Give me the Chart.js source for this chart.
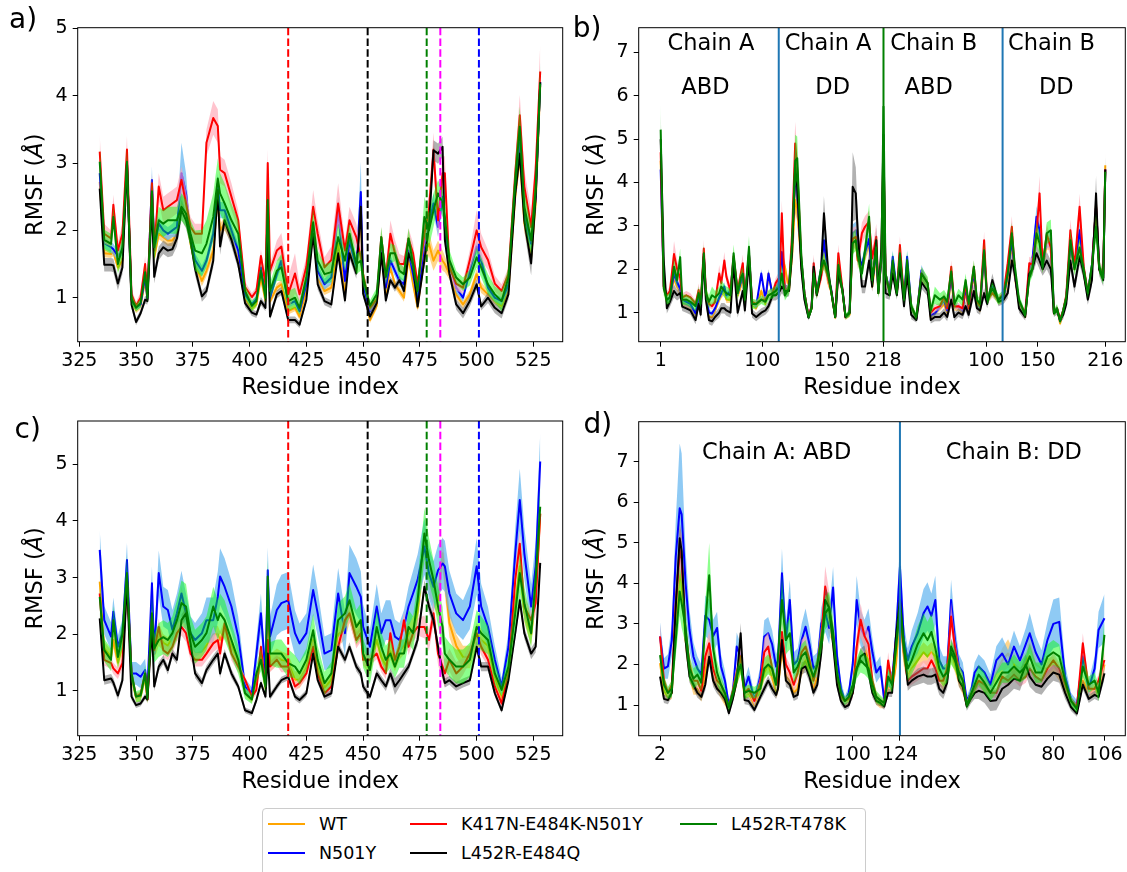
<!DOCTYPE html>
<html><head><meta charset="utf-8">
<script src="https://cdn.jsdelivr.net/npm/chart.js@4/dist/chart.umd.min.js"></script>
<style>
html,body{margin:0;padding:0;background:#fff;}
body{width:1127px;height:872px;position:relative;overflow:hidden;font-family:'DejaVu Sans';}
canvas{position:absolute;}
#legend{position:absolute;left:262px;top:808px;width:604px;height:90px;border:1px solid #cccccc;border-radius:4px;box-sizing:border-box;}
.lt{position:absolute;font-size:17.5px;line-height:20px;color:#000;white-space:nowrap;}
.sw{position:absolute;height:2px;width:37px;}
</style></head><body>
<canvas id="ca" width="570" height="400" style="left:0;top:0"></canvas>
<canvas id="cb" width="557" height="400" style="left:570px;top:0"></canvas>
<canvas id="cc" width="570" height="400" style="left:0;top:400px"></canvas>
<canvas id="cd" width="557" height="400" style="left:570px;top:400px"></canvas>
<div id="legend"></div>
<script>
// ---------- Panels a & c : residue index ----------
const acX = [334,336,339,340,342,344,346,348,350,352,
 354,355,357,358,360,362,364,366,368,370,
 372,374,376,379,381,384,386,387,389,392,
 395,398,401,403,405,407,408,409,412,414,
 417,420,422,425,428,430,433,436,439,442,
 444,447,449,450,453,456,458,460,462,464,
 466,468,470,472,474,477,479,481,483,485,
 486,488,491,494,497,500,502,505,508,511,
 514,517,519,521,524,526,528];
const acTicks = [325,350,375,400,425,450,475,500,525];

// panel a
const aWT = [2.72,1.66,1.65,1.68,1.45,1.55,2.95,0.95,0.82,0.88,
 1.25,0.97,2.60,1.60,1.95,1.90,1.85,1.85,1.95,2.50,
 2.25,1.80,1.50,1.25,1.40,1.70,2.50,2.00,2.10,1.90,
 1.55,0.98,0.85,0.90,1.30,0.95,2.40,0.95,1.15,1.20,
 0.80,0.85,0.72,1.10,2.00,1.30,1.10,1.15,1.80,1.10,
 1.70,1.40,2.20,1.15,0.67,0.88,1.70,1.05,1.45,1.20,
 1.10,1.00,1.60,1.20,0.85,1.66,1.80,1.55,1.70,1.55,
 1.50,1.35,1.05,0.90,1.05,1.35,1.15,1.05,0.95,0.88,
 1.10,2.50,3.10,2.10,1.60,2.40,4.15];
const aN501Y = [2.85,1.81,1.75,1.72,1.62,1.71,3.00,0.97,0.86,0.90,
 1.32,0.98,2.75,1.72,2.10,2.00,1.95,2.00,2.05,2.85,
 2.55,1.90,1.56,1.40,1.55,1.95,2.70,2.30,2.30,2.00,
 1.70,1.05,0.90,0.98,1.45,1.05,2.40,1.00,1.35,1.55,
 0.90,0.95,0.80,1.20,2.05,1.40,1.20,1.30,2.30,1.25,
 1.85,1.45,2.57,1.20,0.80,0.95,1.75,1.15,1.55,1.40,
 1.25,1.20,1.70,1.35,0.98,1.80,2.10,2.40,2.05,2.50,
 2.00,1.50,1.15,1.00,1.40,1.76,1.55,1.15,1.00,0.95,
 1.20,2.60,3.30,2.25,1.80,2.50,4.20];
const aK417N = [3.17,1.95,1.88,2.38,1.70,1.95,3.20,1.05,0.88,1.00,
 1.50,1.05,2.70,1.70,2.65,2.30,2.35,2.40,2.45,2.75,
 2.40,2.05,1.95,1.95,3.30,3.67,3.55,2.90,2.85,2.50,
 2.15,1.16,1.01,1.10,1.62,1.20,3.00,1.40,1.70,1.76,
 1.05,1.36,1.05,1.46,2.35,1.95,1.45,1.56,2.40,1.70,
 2.15,1.90,1.60,1.35,0.85,0.98,1.90,1.30,1.95,1.66,
 1.50,1.50,1.88,1.66,1.20,1.95,2.30,3.20,2.15,2.85,
 2.85,1.46,1.21,1.15,1.56,2.00,1.75,1.56,1.21,1.10,
 1.35,2.85,3.71,2.65,2.05,2.90,4.36];
const aE484Q = [2.62,1.49,1.49,1.48,1.21,1.45,3.00,0.90,0.64,0.77,
 0.97,0.95,2.40,1.31,1.66,1.75,1.70,1.72,1.88,2.30,
 2.15,1.85,1.43,1.02,1.10,1.55,2.60,1.76,2.15,1.86,
 1.50,0.92,0.78,0.75,0.95,0.85,2.00,0.72,1.05,1.10,
 0.67,0.67,0.60,0.97,1.95,1.20,0.95,0.90,1.66,0.96,
 1.66,1.36,2.35,1.06,0.72,0.92,1.66,0.96,1.26,1.15,
 1.26,1.10,1.66,1.50,0.87,1.56,2.05,3.19,3.14,3.24,
 1.86,1.36,0.90,0.77,0.95,1.20,0.87,1.00,0.85,0.77,
 1.05,2.55,3.14,2.15,1.51,2.50,4.20];
const aT478K = [3.02,1.86,1.80,2.20,1.50,1.75,3.02,0.98,0.85,0.92,
 1.38,1.00,2.58,1.75,2.15,2.10,2.15,2.15,2.15,2.35,
 2.25,1.95,1.70,1.66,1.80,2.20,2.77,2.55,2.40,2.15,
 1.95,1.10,0.88,0.95,1.40,1.00,2.45,1.10,1.40,1.45,
 0.95,1.00,0.85,1.30,2.12,1.55,1.35,1.38,1.90,1.55,
 1.95,1.50,1.55,1.30,0.88,1.05,1.90,1.31,1.66,1.66,
 1.40,1.35,1.88,1.50,1.10,2.20,2.00,2.30,2.55,2.40,
 2.20,1.56,1.30,1.20,1.30,1.60,1.45,1.20,1.05,0.95,
 1.30,2.75,3.54,2.35,1.85,2.60,4.18];
// panel a standard deviations (band half-widths)
const aWT_sd = [.12,.06,.06,.06,.06,.06,.12,.05,.05,.05,
 .06,.05,.12,.08,.08,.08,.08,.08,.08,.12,
 .1,.08,.08,.08,.08,.1,.12,.1,.1,.08,
 .08,.05,.05,.05,.06,.05,.12,.05,.06,.06,
 .05,.05,.05,.05,.1,.08,.06,.06,.1,.06,
 .08,.06,.12,.06,.05,.05,.08,.06,.06,.06,
 .06,.06,.08,.06,.05,.18,.18,.15,.15,.15,
 .12,.08,.06,.06,.06,.08,.08,.06,.05,.05,
 .06,.12,.15,.12,.1,.12,.2];
const aN501Y_sd = [.15,.08,.08,.08,.08,.08,.15,.05,.05,.05,
 .08,.05,.2,.1,.1,.1,.1,.1,.15,.45,
 .3,.1,.1,.08,.08,.1,.15,.12,.12,.1,
 .1,.05,.05,.05,.08,.05,.15,.05,.08,.1,
 .05,.05,.05,.06,.12,.1,.08,.1,.2,.08,
 .1,.08,.45,.1,.05,.05,.1,.08,.08,.08,
 .08,.06,.1,.08,.05,.1,.12,.15,.15,.15,
 .12,.1,.08,.06,.08,.1,.15,.08,.06,.06,
 .08,.15,.2,.15,.1,.15,.3];
const aK417N_sd = [.25,.15,.12,.15,.12,.15,.2,.08,.06,.08,
 .12,.08,.15,.15,.2,.2,.2,.2,.2,.2,
 .2,.15,.15,.15,.2,.25,.25,.2,.2,.2,
 .15,.08,.06,.06,.1,.08,.2,.1,.15,.2,
 .25,.3,.15,.15,.25,.2,.15,.2,.3,.15,
 .2,.2,.15,.1,.06,.08,.15,.1,.2,.2,
 .15,.12,.15,.15,.1,.2,.25,.25,.25,.25,
 .25,.15,.1,.1,.15,.3,.2,.15,.12,.1,
 .1,.2,.3,.25,.25,.25,.4];
const aE484Q_sd = [.12,.1,.1,.1,.1,.1,.12,.06,.05,.05,
 .06,.05,.12,.1,.1,.1,.1,.1,.12,.15,
 .12,.1,.1,.08,.08,.1,.15,.12,.12,.1,
 .08,.06,.05,.05,.06,.05,.1,.05,.06,.06,
 .05,.05,.05,.05,.1,.08,.06,.06,.1,.06,
 .08,.08,.12,.06,.05,.05,.08,.06,.06,.06,
 .06,.06,.08,.08,.05,.1,.12,.15,.15,.15,
 .1,.08,.08,.08,.08,.08,.06,.08,.08,.08,
 .08,.12,.15,.15,.18,.15,.2];
const aT478K_sd = [.25,.15,.15,.15,.15,.15,.2,.08,.06,.06,
 .1,.08,.2,.2,.2,.2,.2,.2,.2,.2,
 .2,.2,.3,.35,.35,.35,.3,.3,.3,.25,
 .2,.1,.08,.08,.1,.08,.2,.12,.15,.2,
 .15,.15,.1,.12,.2,.15,.15,.15,.2,.15,
 .15,.15,.15,.12,.08,.1,.15,.12,.15,.12,
 .12,.1,.15,.12,.08,.3,.25,.25,.2,.2,
 .2,.15,.1,.1,.12,.15,.15,.15,.12,.15,
 .15,.25,.3,.25,.2,.25,.3];

// panel c
const cWT = [2.93,1.75,1.60,1.90,1.50,1.80,3.00,1.25,0.88,0.90,
 1.25,0.85,2.40,1.70,2.00,1.85,1.80,1.95,2.10,2.60,
 2.30,1.90,1.65,1.70,1.80,2.00,2.00,1.90,2.10,1.80,
 1.50,1.00,0.85,1.15,1.60,1.05,2.50,1.50,1.60,1.55,
 1.50,1.20,1.20,1.40,1.90,1.40,1.05,1.20,2.00,2.10,
 2.40,2.00,2.10,1.60,1.43,1.90,1.60,1.45,1.70,1.50,
 1.70,1.80,2.00,2.10,2.40,3.60,3.00,2.80,2.60,3.43,
 3.00,2.20,1.80,1.60,1.60,2.00,1.90,1.80,1.25,0.85,
 1.40,2.50,3.20,2.40,2.00,2.70,4.13];
const cN501Y = [3.49,2.25,1.96,2.40,1.78,2.02,3.31,1.31,1.31,1.25,
 1.37,1.00,2.90,1.66,3.08,2.49,2.43,2.08,2.37,2.72,
 2.37,2.02,1.90,2.02,2.25,2.25,2.66,3.02,2.84,2.49,
 1.96,1.08,0.96,1.66,2.37,1.31,3.13,1.96,2.43,2.55,
 2.60,2.02,1.84,2.02,2.78,2.37,1.66,1.72,2.72,2.02,
 3.08,2.84,2.66,2.13,1.78,2.49,2.02,2.25,2.25,1.96,
 1.90,2.13,2.49,2.72,2.96,3.55,3.08,2.84,3.13,3.25,
 3.20,2.72,2.37,2.25,2.49,3.20,2.49,2.13,1.55,1.08,
 1.78,3.43,4.37,3.43,2.49,3.20,5.05];
const cK417N = [2.72,1.55,1.49,1.40,1.31,1.49,2.96,1.31,0.90,0.95,
 1.31,0.85,2.30,1.72,2.13,1.72,1.66,1.78,2.02,2.13,
 2.02,1.66,1.55,1.55,1.66,1.84,1.90,1.66,2.19,1.66,
 1.43,1.20,0.90,1.02,1.78,1.08,1.90,1.43,1.55,1.43,
 1.43,1.08,1.14,1.31,1.78,1.31,0.96,1.08,1.78,2.25,
 2.37,1.90,2.02,1.55,1.55,1.66,1.43,1.31,2.02,1.55,
 1.78,2.25,1.78,2.02,2.13,2.13,1.90,2.37,1.66,1.43,
 1.31,1.55,1.31,1.43,1.66,2.02,1.78,1.55,1.08,0.78,
 1.31,2.96,3.60,2.49,2.25,2.55,4.13];
const cE484Q = [2.28,1.19,1.22,1.15,0.92,1.19,2.96,0.90,0.75,0.78,
 0.90,0.85,2.13,1.08,1.43,1.55,1.37,1.66,1.55,2.25,
 2.37,1.84,1.31,1.14,1.37,1.55,1.66,1.31,1.66,1.31,
 1.08,0.66,0.61,0.84,1.14,0.90,1.66,0.90,1.08,1.19,
 1.25,0.90,0.84,0.96,1.66,1.19,0.90,0.96,1.78,1.55,
 1.78,1.43,1.31,1.08,0.90,1.31,1.19,1.08,1.31,1.08,
 1.19,1.31,1.43,1.66,1.90,2.84,2.49,2.25,1.78,1.31,
 1.14,1.19,1.08,1.14,1.19,1.78,1.43,1.43,0.96,0.66,
 1.19,2.02,2.60,2.02,1.66,1.78,3.26];
const cT478K = [2.66,1.72,1.55,2.25,1.60,2.00,3.08,1.31,0.90,0.92,
 1.31,0.88,2.37,1.75,1.90,1.95,1.90,2.02,2.25,2.55,
 2.49,2.02,1.78,1.90,2.02,2.49,2.25,2.37,2.25,1.90,
 1.55,0.96,0.85,1.31,1.55,1.08,3.02,1.66,1.66,1.66,
 1.49,1.43,1.31,1.55,2.07,1.55,1.14,1.31,2.25,2.37,
 2.60,2.13,2.25,1.66,1.37,2.13,1.78,1.55,1.66,1.43,
 1.66,1.66,2.13,2.02,2.60,3.78,3.31,2.96,2.49,2.13,
 1.66,1.55,1.43,1.43,1.55,2.13,2.02,1.90,1.31,1.02,
 1.43,2.37,3.08,2.55,2.02,2.96,4.25];
const cWT_sd = [.2,.12,.12,.15,.12,.15,.2,.1,.08,.08,
 .1,.08,.2,.15,.2,.15,.15,.15,.2,.25,
 .2,.15,.15,.15,.15,.15,.15,.15,.15,.15,
 .12,.08,.06,.1,.15,.1,.2,.15,.15,.15,
 .15,.15,.15,.15,.2,.15,.12,.12,.2,.2,
 .2,.2,.2,.15,.15,.15,.15,.15,.15,.15,
 .15,.15,.2,.2,.25,.35,.3,.3,.3,.3,
 .3,.25,.2,.2,.2,.2,.2,.2,.15,.1,
 .15,.2,.25,.2,.2,.2,.3];
const cN501Y_sd = [.35,.25,.25,.25,.2,.25,.3,.2,.2,.2,
 .2,.15,.3,.25,.4,.35,.35,.35,.35,.4,
 .35,.3,.3,.35,.4,.4,.45,.5,.5,.45,
 .35,.15,.1,.25,.35,.2,.4,.35,.45,.5,
 .5,.4,.35,.35,.45,.4,.3,.3,.45,.4,
 .5,.5,.45,.4,.3,.4,.35,.35,.35,.3,
 .3,.3,.35,.4,.45,.5,.45,.45,.45,.45,
 .45,.4,.35,.35,.4,.5,.4,.35,.25,.15,
 .25,.45,.55,.45,.4,.45,.5];
const cK417N_sd = [.15,.1,.1,.1,.1,.1,.15,.08,.06,.06,
 .08,.06,.15,.12,.15,.12,.12,.12,.15,.15,
 .15,.12,.12,.12,.12,.15,.15,.15,.15,.12,
 .1,.06,.05,.08,.1,.08,.15,.1,.1,.1,
 .1,.08,.08,.1,.15,.1,.08,.08,.15,.15,
 .15,.15,.15,.1,.1,.1,.1,.1,.15,.1,
 .12,.15,.15,.15,.15,.2,.2,.2,.2,.25,
 .25,.2,.2,.15,.15,.15,.15,.12,.1,.08,
 .1,.2,.25,.2,.15,.2,.3];
const cE484Q_sd = [.1,.08,.08,.08,.08,.08,.1,.06,.05,.05,
 .05,.05,.1,.08,.08,.08,.08,.08,.08,.1,
 .1,.08,.08,.08,.08,.08,.08,.08,.08,.08,
 .06,.05,.05,.05,.06,.05,.08,.06,.06,.06,
 .06,.06,.06,.06,.08,.06,.06,.06,.08,.08,
 .08,.08,.08,.08,.06,.08,.08,.08,.1,.15,
 .12,.1,.08,.08,.1,.12,.12,.1,.1,.08,
 .08,.08,.08,.08,.08,.1,.08,.08,.06,.05,
 .06,.1,.12,.1,.1,.1,.12];
const cT478K_sd = [.3,.2,.2,.25,.2,.25,.3,.15,.1,.1,
 .15,.1,.3,.25,.3,.3,.3,.3,.35,.4,
 .4,.3,.3,.3,.3,.35,.35,.35,.35,.3,
 .25,.1,.08,.15,.2,.12,.3,.2,.25,.25,
 .25,.2,.2,.2,.3,.25,.2,.2,.3,.3,
 .3,.3,.3,.25,.25,.3,.25,.25,.25,.2,
 .25,.25,.3,.3,.35,.45,.4,.35,.35,.35,
 .3,.3,.3,.3,.3,.3,.3,.25,.2,.12,
 .2,.3,.35,.3,.25,.3,.4];

// ---------- Panel b : concatenated chain index ----------
const bX = [1,4,7,10,14,17,20,22,26,30,
 35,38,40,43,45,48,51,54,58,60,
 63,65,69,72,76,79,81,83,87,90,
 94,99,103,106,110,113,117,119,122,126,
 129,132,134,138,141,145,148,150,153,157,
 160,164,167,171,174,178,181,185,188,191,
 193,197,200,204,207,211,213,216,218,220,
 224,227,231,234,238,241,245,250,255,261,
 264,268,273,277,280,284,287,291,295,298,
 301,306,309,312,316,319,324,330,335,339,
 343,346,350,356,360,363,367,370,373,377,
 381,384,387,390,393,396,400,404,409,413,
 417,421,425,428,432,434];
const bTicks = [1,100,168,218,318,368,434];
const bTickLabels = ['1','100','150','218','100','150','216'];
const bWT = [4.5,1.6,1.25,1.3,1.8,1.6,1.5,1.25,1.2,1.15,
 0.95,1.3,1.1,2.3,1.4,0.9,0.9,1.05,1.3,1.4,
 1.5,1.3,1.3,2.2,1.4,1.6,1.9,1.25,2.3,1.2,
 1.1,1.5,1.2,1.9,1.4,1.5,1.7,2.3,2.06,1.5,
 2.3,3.6,3.4,2.1,1.4,0.9,1.1,1.9,1.4,1.8,
 2.5,1.7,1.5,0.88,1.9,1.5,0.88,0.95,2.7,2.6,
 2.2,2.0,2.3,2.6,1.6,2.3,1.45,2.2,4.0,1.85,
 1.45,2.0,1.45,2.2,1.3,2.1,1.15,0.85,1.8,1.6,
 0.9,1.0,1.1,1.2,1.0,1.8,1.1,1.1,1.0,1.5,
 1.05,1.9,1.2,1.05,2.3,1.25,1.5,1.25,1.3,1.8,
 2.6,1.8,1.2,0.9,1.9,2.0,2.7,2.8,2.0,2.6,
 2.6,0.98,1.1,0.75,1.0,1.3,2.5,2.0,2.8,1.9,
 1.4,2.0,3.5,2.0,1.8,4.4];
const bN501Y = [4.3,1.62,1.3,1.35,1.9,1.7,1.55,1.3,1.25,1.2,
 0.98,1.35,1.1,2.35,1.45,1.0,0.98,1.1,1.35,1.45,
 1.6,1.4,1.5,2.25,1.45,1.7,2.0,1.3,2.35,1.25,
 1.15,1.9,1.3,1.9,1.4,1.55,1.83,2.4,1.5,1.6,
 2.6,4.2,3.8,2.2,1.45,0.9,1.15,2.0,1.45,1.98,
 2.67,1.8,1.55,0.9,2.0,1.55,0.9,1.0,2.83,2.9,
 2.3,2.1,2.4,2.7,1.7,2.4,1.5,2.2,4.5,1.9,
 1.5,2.29,1.5,2.3,1.3,2.29,1.15,0.85,1.98,1.65,
 0.95,0.98,1.14,1.3,1.05,1.9,1.15,1.15,1.05,1.6,
 1.1,1.95,1.25,1.1,2.4,1.3,1.6,1.3,1.35,1.9,
 2.7,1.85,1.25,0.95,2.0,2.21,3.21,2.9,2.06,2.7,
 2.7,1.0,1.1,0.8,1.05,1.35,2.6,2.05,2.9,2.0,
 1.45,2.1,3.44,2.1,1.8,4.3];
const bK417N = [4.7,1.6,1.4,1.5,2.35,2.0,1.8,1.35,1.4,1.35,
 1.2,1.52,1.2,2.48,1.5,1.2,1.15,1.25,1.9,1.68,
 2.2,1.83,1.5,2.3,1.5,1.9,2.14,1.3,2.35,1.25,
 1.2,1.3,1.3,1.4,1.45,1.68,1.83,3.29,1.45,1.6,
 2.83,4.9,4.3,2.21,1.45,0.92,1.14,2.14,1.45,1.8,
 2.2,1.8,1.52,0.92,2.37,1.55,0.9,1.0,2.7,2.75,
 2.2,2.83,2.98,3.1,2.25,2.75,1.5,2.3,4.8,1.9,
 1.45,2.1,1.45,2.56,1.3,2.0,1.15,0.88,1.9,1.68,
 1.0,1.1,1.15,1.37,1.1,2.06,1.14,1.15,1.1,1.7,
 1.1,2.06,1.25,1.15,2.67,1.3,1.45,1.3,1.45,2.14,
 2.98,1.9,1.25,0.98,2.14,2.1,2.83,3.75,2.1,2.8,
 2.5,1.0,1.1,0.85,1.05,1.4,2.9,2.06,3.44,2.06,
 1.45,2.06,3.44,2.06,1.9,4.3];
const bE484Q = [5.0,2.2,1.1,1.25,1.5,1.4,1.45,1.14,1.1,1.05,
 0.83,1.2,0.95,2.29,1.3,0.83,0.8,0.9,1.0,1.1,
 1.1,1.05,1.0,2.14,1.0,1.3,1.5,1.05,2.21,0.98,
 0.9,1.0,1.05,1.15,1.4,1.4,1.5,1.6,1.5,1.5,
 2.4,4.36,3.9,2.0,1.3,0.88,1.1,2.06,1.4,1.9,
 3.29,2.0,1.5,0.9,1.9,1.52,0.9,1.0,3.9,3.75,
 2.83,1.6,1.6,2.2,1.6,2.67,1.45,2.5,5.1,1.45,
 1.4,1.9,1.4,2.1,1.15,1.9,0.95,0.83,1.7,1.5,
 0.83,0.9,0.9,1.0,0.9,1.3,0.9,1.0,0.95,1.15,
 0.95,1.5,1.1,1.05,1.45,1.2,1.75,1.25,1.3,1.45,
 2.2,1.9,1.1,0.9,1.9,2.0,2.37,2.2,2.0,2.2,
 2.0,0.98,1.05,0.83,0.95,1.2,2.2,1.6,2.3,1.9,
 1.3,1.75,3.75,2.0,1.75,4.3];
const bT478K = [5.22,1.55,1.3,1.35,2.06,1.75,2.28,1.3,1.3,1.25,
 1.15,1.45,1.2,2.37,1.45,1.25,1.4,1.35,1.45,1.6,
 1.5,1.45,1.4,2.37,1.45,1.8,1.9,1.3,2.52,1.2,
 1.2,1.3,1.25,1.4,1.45,1.5,1.6,1.9,1.4,1.55,
 2.6,4.5,4.56,2.3,1.45,0.9,1.1,1.9,1.45,2.0,
 2.2,1.9,1.5,0.9,2.1,1.5,0.92,0.98,2.6,2.67,
 2.3,1.9,2.44,3.21,1.75,2.5,1.45,2.3,5.75,1.9,
 1.45,2.2,1.45,2.37,1.3,2.21,1.15,0.9,1.9,1.68,
 1.05,1.4,1.3,1.37,1.25,1.95,1.2,1.4,1.3,1.75,
 1.2,2.06,1.3,1.2,2.44,1.3,1.55,1.3,1.4,1.9,
 2.83,2.06,1.3,0.95,1.8,2.0,2.83,2.6,2.06,2.83,
 2.9,1.0,1.1,0.8,1.05,1.35,2.67,2.0,2.5,2.0,
 1.45,2.1,2.98,2.06,1.8,4.25];
const bWT_sd = [.5,.1,.08,.08,.1,.1,.1,.08,.08,.08,
 .06,.08,.06,.12,.08,.06,.06,.06,.08,.08,
 .08,.08,.08,.12,.08,.08,.1,.06,.12,.06,
 .06,.08,.06,.1,.08,.08,.1,.12,.15,.08,
 .15,.3,.3,.12,.08,.05,.06,.1,.08,.1,
 .15,.1,.08,.05,.1,.08,.05,.05,.15,.15,
 .12,.1,.12,.15,.1,.12,.08,.12,.4,.1,
 .08,.12,.08,.12,.08,.12,.06,.05,.1,.08,
 .05,.06,.06,.06,.06,.1,.06,.06,.06,.08,
 .06,.1,.06,.06,.12,.06,.08,.06,.08,.1,
 .15,.1,.06,.05,.1,.1,.15,.15,.1,.15,
 .15,.05,.06,.05,.06,.08,.15,.1,.15,.1,
 .08,.1,.2,.1,.1,.3];
const bN501Y_sd = [.5,.1,.08,.08,.12,.1,.1,.08,.08,.08,
 .06,.08,.06,.12,.08,.06,.06,.06,.08,.08,
 .1,.08,.1,.12,.08,.1,.12,.06,.12,.06,
 .06,.1,.06,.1,.08,.08,.1,.15,.1,.1,
 .2,.4,.35,.15,.08,.05,.06,.12,.08,.12,
 .2,.12,.08,.05,.12,.08,.05,.05,.2,.2,
 .15,.12,.15,.15,.1,.15,.08,.12,.4,.1,
 .08,.15,.08,.15,.08,.15,.06,.05,.12,.1,
 .05,.06,.06,.08,.06,.12,.06,.06,.06,.1,
 .06,.12,.08,.06,.15,.08,.1,.08,.08,.12,
 .2,.12,.08,.06,.12,.15,.25,.2,.12,.2,
 .2,.06,.06,.05,.06,.08,.2,.12,.2,.12,
 .08,.12,.3,.12,.1,.3];
const bK417N_sd = [.6,.15,.1,.1,.3,.2,.15,.1,.1,.1,
 .08,.15,.08,.2,.1,.08,.08,.1,.2,.15,
 .2,.15,.12,.15,.1,.15,.2,.08,.15,.08,
 .08,.08,.08,.1,.1,.12,.15,.3,.1,.12,
 .3,.5,.4,.2,.1,.06,.08,.2,.1,.15,
 .2,.15,.1,.06,.2,.1,.06,.06,.25,.25,
 .2,.25,.25,.25,.2,.3,.1,.15,.5,.12,
 .1,.15,.1,.2,.08,.15,.08,.06,.15,.12,
 .06,.08,.08,.1,.08,.15,.08,.08,.08,.12,
 .08,.15,.08,.08,.2,.1,.1,.08,.1,.15,
 .25,.15,.1,.06,.15,.15,.25,.4,.15,.25,
 .2,.06,.08,.06,.08,.1,.25,.15,.3,.15,
 .1,.15,.3,.15,.15,.3];
const bE484Q_sd = [.6,.2,.12,.12,.15,.12,.12,.1,.1,.1,
 .1,.12,.1,.2,.12,.1,.1,.1,.12,.12,
 .12,.12,.12,.2,.12,.12,.15,.1,.2,.1,
 .1,.1,.1,.12,.12,.12,.15,.15,.15,.12,
 .3,.6,.5,.2,.12,.06,.08,.2,.1,.15,
 .4,.2,.1,.06,.15,.1,.06,.08,.8,.6,
 .4,.15,.15,.2,.12,.3,.1,.2,.6,.12,
 .1,.15,.1,.15,.1,.15,.1,.06,.15,.12,
 .08,.1,.1,.1,.1,.12,.1,.1,.1,.12,
 .1,.15,.1,.1,.12,.1,.15,.1,.1,.12,
 .2,.15,.1,.08,.15,.15,.2,.2,.15,.2,
 .2,.08,.1,.06,.1,.1,.2,.15,.2,.15,
 .12,.15,.4,.15,.15,.3];
const bT478K_sd = [.6,.15,.12,.12,.2,.15,.2,.12,.12,.12,
 .12,.15,.12,.2,.15,.15,.2,.15,.15,.15,
 .15,.15,.15,.2,.15,.15,.15,.12,.25,.12,
 .1,.1,.1,.12,.12,.12,.15,.2,.12,.12,
 .3,.6,.5,.25,.12,.06,.08,.15,.12,.15,
 .2,.15,.12,.06,.2,.12,.06,.08,.25,.25,
 .2,.15,.25,.3,.15,.25,.12,.2,.5,.15,
 .12,.2,.12,.2,.12,.2,.12,.08,.15,.15,
 .1,.2,.15,.15,.15,.15,.12,.15,.15,.15,
 .12,.15,.12,.12,.2,.12,.15,.12,.12,.15,
 .25,.15,.12,.08,.15,.15,.25,.25,.15,.25,
 .25,.08,.1,.06,.1,.12,.25,.15,.2,.15,
 .12,.15,.3,.15,.15,.35];

// ---------- Panel d ----------
const dX = [2,4,6,8,10,12,13,15,17,19,
 21,23,25,27,29,31,33,35,37,39,
 41,43,45,47,50,53,55,57,59,61,
 62,64,66,68,70,72,74,76,78,80,
 82,84,86,88,90,92,94,96,98,100,
 102,104,106,108,110,112,114,116,118,120,
 122,124,126,128,130,133,136,138,140,142,
 144,146,148,150,152,154,156,158,160,162,
 164,167,170,173,176,179,182,185,188,190,
 193,196,199,202,205,208,211,214,217,220,
 223,225,228];
const dTicks = [2,50,100,124,172,202,228];
const dTickLabels = ['2','50','100','124','50','80','106'];
const dWT = [2.03,1.35,1.2,1.3,3.0,4.3,4.0,2.6,1.8,1.4,
 1.4,1.2,1.8,2.5,1.7,1.5,1.3,1.1,0.9,1.2,
 1.6,2.0,1.2,1.3,1.0,1.4,1.8,2.0,1.7,1.3,
 1.4,2.4,1.7,1.6,1.3,1.4,1.9,2.1,1.8,1.4,
 1.7,2.4,3.3,3.0,2.8,1.6,1.2,1.05,1.1,1.4,
 2.4,3.0,2.6,2.0,1.4,1.1,1.0,1.0,1.5,1.4,
 2.0,3.3,2.2,1.7,1.9,2.1,2.3,2.2,2.3,2.2,
 1.7,1.5,1.7,2.3,2.0,1.6,1.4,1.0,1.2,1.4,
 1.6,1.5,1.5,1.8,2.1,2.27,2.0,1.9,2.0,2.5,
 2.0,1.9,1.9,2.0,1.8,1.4,1.1,0.95,1.6,1.3,
 1.4,1.3,2.0];
const dN501Y = [2.69,1.9,1.95,2.6,4.66,5.85,5.7,4.0,2.85,2.19,
 1.9,1.75,3.2,3.1,2.7,2.9,1.95,1.6,1.0,1.3,
 2.44,2.2,1.4,1.7,1.12,1.7,2.69,2.77,2.5,1.95,
 2.1,4.25,2.6,3.59,2.0,2.1,2.6,2.93,2.5,1.9,
 2.0,3.0,3.3,2.9,3.9,2.2,1.4,1.1,1.3,2.0,
 3.59,2.9,2.7,2.93,2.3,1.8,1.95,1.12,1.7,1.6,
 2.7,4.41,2.6,2.1,2.44,2.77,3.26,3.43,3.2,3.59,
 2.1,1.9,1.9,3.59,2.6,1.95,1.8,1.1,1.3,1.8,
 1.95,1.8,1.5,2.1,2.27,2.0,2.44,2.1,2.5,2.77,
 2.3,2.0,2.6,3.0,3.05,1.7,1.15,1.0,2.2,1.4,
 1.9,2.85,3.14];
const dK417N = [2.69,1.6,1.3,1.5,3.5,4.82,4.6,2.8,2.0,1.6,
 1.6,1.35,2.2,2.52,1.9,1.6,1.5,1.25,0.95,1.35,
 1.8,2.2,1.3,1.4,1.1,1.55,2.3,2.44,1.9,1.5,
 1.6,2.8,2.0,1.8,1.5,1.8,2.3,2.44,2.1,1.6,
 2.0,2.7,3.92,3.4,2.7,1.7,1.2,1.1,1.15,1.3,
 2.44,3.1,2.7,2.5,1.6,1.2,1.1,1.05,2.1,1.5,
 2.6,3.26,2.3,1.6,1.7,1.8,1.9,1.9,2.1,1.9,
 1.6,1.6,1.9,3.18,2.4,1.8,1.6,1.0,1.25,1.4,
 1.6,1.5,1.3,1.3,1.7,1.6,1.75,1.6,1.7,1.9,
 1.7,1.6,1.9,2.1,1.9,1.5,1.1,0.95,2.52,1.4,
 1.4,1.6,2.11];
const dE484Q = [1.7,1.15,1.12,1.3,3.43,5.11,4.8,2.6,1.7,1.5,
 1.3,1.2,1.5,2.19,1.6,1.4,1.3,1.15,0.8,1.15,
 1.6,2.77,1.12,1.1,0.88,1.2,1.4,1.6,1.4,1.25,
 1.4,2.6,1.6,1.5,1.2,1.25,1.9,1.95,1.7,1.3,
 1.5,2.3,3.59,3.4,2.5,1.5,1.1,0.95,1.0,1.3,
 1.9,2.2,2.27,1.8,1.3,1.1,1.05,0.96,1.3,1.3,
 2.7,3.59,2.5,1.5,1.6,1.7,1.75,1.7,1.7,1.75,
 1.4,1.3,1.55,2.44,2.2,1.6,1.45,0.96,1.15,1.3,
 1.35,1.3,1.1,1.12,1.4,1.5,1.65,1.6,2.0,1.7,
 1.5,1.45,1.65,1.8,1.75,1.3,0.95,0.79,1.5,1.15,
 1.25,1.2,1.78];
const dT478K = [2.23,1.5,1.3,1.4,2.6,3.8,3.5,2.9,1.9,1.65,
 1.75,1.55,3.0,4.2,2.4,1.8,1.5,1.3,0.95,1.3,
 1.7,2.0,1.3,1.35,1.3,1.4,1.9,2.0,1.9,1.5,
 2.2,3.59,2.6,2.77,1.8,1.95,2.2,2.3,1.95,1.7,
 2.0,2.6,3.26,3.4,2.8,1.8,1.3,1.1,1.2,1.5,
 1.9,2.1,2.0,1.9,1.5,1.2,1.12,1.05,1.7,1.5,
 2.4,3.4,2.4,1.9,2.1,2.5,2.77,2.6,2.8,2.4,
 1.9,1.7,1.8,2.3,2.1,1.8,1.6,1.0,1.25,1.5,
 1.75,1.55,1.3,1.55,1.8,1.8,1.95,1.8,1.95,2.2,
 1.8,1.8,2.19,2.3,2.2,1.6,1.1,0.9,1.95,1.5,
 1.6,1.3,2.73];
const dWT_sd = [.2,.12,.1,.15,.3,.4,.4,.3,.2,.15,
 .15,.12,.2,.25,.2,.15,.15,.12,.08,.12,
 .15,.2,.12,.12,.1,.12,.2,.2,.15,.12,
 .12,.25,.15,.15,.12,.15,.2,.2,.15,.12,
 .15,.2,.3,.3,.25,.15,.1,.08,.1,.12,
 .25,.35,.3,.2,.15,.1,.08,.08,.15,.12,
 .2,.4,.25,.2,.25,.25,.25,.25,.25,.25,
 .2,.15,.2,.25,.2,.15,.15,.08,.12,.15,
 .15,.2,.2,.25,.3,.35,.3,.3,.3,.35,
 .25,.25,.25,.2,.2,.15,.1,.08,.15,.12,
 .12,.15,.25];
const dN501Y_sd = [.35,.25,.3,.4,.9,1.6,1.5,.8,.5,.35,
 .3,.25,.5,.5,.4,.4,.3,.25,.12,.2,
 .35,.3,.2,.25,.15,.25,.4,.4,.35,.3,
 .3,.6,.4,.5,.3,.3,.4,.45,.4,.3,
 .3,.4,.5,.4,.5,.3,.2,.12,.15,.25,
 .6,.45,.4,.45,.35,.25,.25,.12,.25,.2,
 .4,.6,.4,.3,.4,.5,.6,.6,.55,.6,
 .35,.3,.3,.5,.4,.3,.25,.12,.15,.25,
 .3,.3,.25,.35,.4,.35,.4,.35,.4,.5,
 .4,.35,.45,.6,.6,.3,.15,.12,.3,.2,
 .3,.45,.6];
const dK417N_sd = [.3,.15,.12,.15,.5,.6,.6,.4,.25,.15,
 .15,.12,.25,.3,.2,.15,.15,.12,.08,.12,
 .2,.25,.12,.12,.1,.15,.35,.35,.2,.15,
 .15,.3,.2,.2,.15,.2,.3,.3,.2,.15,
 .2,.3,.5,.4,.3,.15,.12,.08,.1,.15,
 .3,.4,.3,.3,.15,.12,.1,.08,.2,.15,
 .25,.4,.25,.15,.2,.2,.2,.2,.2,.2,
 .15,.15,.2,.35,.25,.2,.15,.08,.12,.15,
 .15,.15,.12,.12,.15,.15,.15,.15,.15,.15,
 .15,.15,.15,.2,.15,.12,.1,.08,.25,.12,
 .12,.15,.3];
const dE484Q_sd = [.15,.1,.1,.1,.3,.4,.4,.3,.15,.12,
 .12,.1,.15,.2,.15,.12,.12,.1,.08,.1,
 .12,.25,.1,.1,.08,.1,.12,.12,.12,.1,
 .12,.2,.15,.12,.1,.1,.15,.15,.15,.1,
 .12,.2,.3,.3,.2,.12,.1,.08,.08,.1,
 .15,.2,.2,.15,.12,.1,.08,.08,.1,.1,
 .2,.3,.2,.15,.15,.2,.2,.2,.2,.2,
 .15,.15,.15,.2,.2,.15,.15,.1,.12,.15,
 .2,.25,.25,.25,.25,.25,.25,.25,.25,.25,
 .2,.2,.2,.2,.2,.15,.1,.08,.12,.1,
 .1,.1,.15];
const dT478K_sd = [.25,.2,.15,.2,.4,.6,.6,.4,.3,.25,
 .25,.2,.5,.8,.4,.3,.2,.15,.1,.15,
 .2,.25,.15,.15,.15,.15,.25,.25,.2,.2,
 .25,.6,.35,.4,.25,.25,.3,.3,.25,.2,
 .2,.3,.4,.4,.35,.2,.15,.1,.12,.2,
 .25,.3,.25,.25,.2,.15,.12,.1,.2,.2,
 .3,.4,.35,.3,.35,.45,.5,.45,.45,.4,
 .3,.25,.25,.3,.25,.2,.2,.1,.15,.2,
 .25,.25,.2,.25,.25,.25,.3,.25,.3,.3,
 .25,.25,.3,.3,.3,.2,.12,.1,.25,.2,
 .2,.2,.35];

// ---------- styling ----------
const NAMES = ['WT','N501Y','K417N-E484K-N501Y','L452R-E484Q','L452R-T478K'];
const LINE_COLORS = ['#ffa500','#0000ff','#ff0000','#000000','#008000'];
const BAND_COLORS = ['rgba(255,165,0,0.45)','rgba(95,180,240,0.7)','rgba(255,165,180,0.65)','rgba(100,100,100,0.5)','rgba(0,255,0,0.45)'];
const FONT = '"DejaVu Sans"';

Chart.defaults.font.family = FONT;
Chart.defaults.font.size = 19;
Chart.defaults.color = '#000';

function buildDatasets(xs, list){
  const ds = []; let k = 0;
  list.forEach((s, si) => {
    const ys = s[0], sd = s[1];
    ds.push({data: xs.map((x,i)=>({x:x, y:ys[i]-sd[i]})), borderWidth:0, borderColor:'rgba(0,0,0,0)', pointRadius:0, fill:false, order:1000-(k++)});
    ds.push({data: xs.map((x,i)=>({x:x, y:ys[i]+sd[i]})), borderWidth:0, borderColor:'rgba(0,0,0,0)', pointRadius:0, fill:'-1', backgroundColor:BAND_COLORS[si], order:1000-(k++)});
    ds.push({data: xs.map((x,i)=>({x:x, y:ys[i]})), borderWidth:2, borderColor:LINE_COLORS[si], pointRadius:0, fill:false, borderJoinStyle:'round', order:1000-(k++)});
  });
  return ds;
}

function decor(cfg){
  return {
    id: 'decor_' + cfg.id,
    afterDatasetsDraw(chart){
      const ctx = chart.ctx, ca = chart.chartArea, x = chart.scales.x;
      ctx.save();
      ctx.beginPath(); ctx.rect(ca.left, ca.top, ca.right-ca.left, ca.bottom-ca.top); ctx.clip();
      (cfg.vlines||[]).forEach(v => {
        const px = x.getPixelForValue(v.x);
        ctx.beginPath(); ctx.setLineDash(v.dash||[]); ctx.lineWidth = v.w||2; ctx.strokeStyle = v.c;
        ctx.moveTo(px, ca.top); ctx.lineTo(px, ca.bottom); ctx.stroke();
      });
      ctx.restore();
    },
    afterDraw(chart){
      const ctx = chart.ctx, ca = chart.chartArea, x = chart.scales.x, y = chart.scales.y;
      ctx.save();
      ctx.setLineDash([]);
      ctx.strokeStyle = '#000'; ctx.lineWidth = 1;
      ctx.strokeRect(ca.left, ca.top, ca.right-ca.left, ca.bottom-ca.top);
      ctx.fillStyle = '#000';
      ctx.font = '22.5px ' + FONT; ctx.textAlign = 'center'; ctx.textBaseline = 'middle';
      (cfg.annots||[]).forEach(a => ctx.fillText(a.t, x.getPixelForValue(a.x), y.getPixelForValue(a.y)));
      ctx.fillText('Residue index', (ca.left+ca.right)/2, cfg.xtY);
      ctx.save();
      ctx.translate(cfg.ytX, (ca.top+ca.bottom)/2); ctx.rotate(-Math.PI/2);
      const f1 = '22.5px ' + FONT, f2 = 'italic 22.5px ' + FONT;
      const parts = [['RMSF (', f1], ['Å', f2], [')', f1]];
      let tot = 0; parts.forEach(p => { ctx.font = p[1]; tot += ctx.measureText(p[0]).width; });
      let cx = -tot/2; ctx.textAlign = 'left';
      parts.forEach(p => { ctx.font = p[1]; ctx.fillText(p[0], cx, 0); cx += ctx.measureText(p[0]).width; });
      ctx.restore();
      ctx.font = '28px ' + FONT; ctx.textAlign = 'left'; ctx.textBaseline = 'middle';
      ctx.fillText(cfg.letter, cfg.lx, cfg.ly);
      ctx.restore();
    }
  };
}

function makeChart(cfg){
  new Chart(document.getElementById(cfg.id), {
    type: 'line',
    data: {datasets: buildDatasets(cfg.xs, cfg.series)},
    options: {
      responsive: false, animation: false, events: [],
      layout: {padding: cfg.pad, autoPadding: false},
      plugins: {legend: {display: false}, tooltip: {enabled: false}},
      elements: {line: {tension: 0}, point: {radius: 0}},
      scales: {
        x: {type: 'linear', min: cfg.xmin, max: cfg.xmax,
            afterBuildTicks: s => { s.ticks = cfg.xticks.map(v => ({value: v})); },
            afterFit: s => { s.height = cfg.xH; },
            ticks: {autoSkip: false, maxRotation: 0, padding: 3,
                    callback: (v, i) => cfg.xlabels ? cfg.xlabels[i] : String(v)},
            grid: {drawOnChartArea: false, drawTicks: true, tickLength: 5, color: '#000', lineWidth: 1},
            border: {display: false}},
        y: {type: 'linear', min: cfg.ymin, max: cfg.ymax,
            afterBuildTicks: s => { s.ticks = cfg.yticks.map(v => ({value: v})); },
            afterFit: s => { s.width = cfg.yW; },
            ticks: {autoSkip: false, padding: 5, callback: v => String(v)},
            grid: {drawOnChartArea: false, drawTicks: true, tickLength: 5, color: '#000', lineWidth: 1},
            border: {display: false}}
      }
    },
    plugins: [decor(cfg)]
  });
}

const dashed = [
  {x:417, c:'#ff0000', dash:[7.5,3.3]}, {x:452, c:'#000000', dash:[7.5,3.3]},
  {x:478, c:'#008000', dash:[7.5,3.3]}, {x:484, c:'#ff00ff', dash:[7.5,3.3]},
  {x:501, c:'#0000ff', dash:[7.5,3.3]}
];

makeChart({id:'ca', xs:acX, series:[[aWT,aWT_sd],[aN501Y,aN501Y_sd],[aK417N,aK417N_sd],[aE484Q,aE484Q_sd],[aT478K,aT478K_sd]],
  xmin:324.3, xmax:537.9, ymin:0.347, ymax:5.01, xticks:acTicks, yticks:[1,2,3,4,5],
  pad:{left:0, top:27.7, right:7.3, bottom:0}, yW:77.7, xH:58.3,
  vlines:dashed, letter:'a)', lx:9, ly:21, ytX:36, xtY:388});

makeChart({id:'cb', xs:bX, series:[[bWT,bWT_sd],[bN501Y,bN501Y_sd],[bK417N,bK417N_sd],[bE484Q,bE484Q_sd],[bT478K,bT478K_sd]],
  xmin:-20.4, xmax:453.5, ymin:0.33, ymax:7.57, xticks:bTicks, xlabels:bTickLabels, yticks:[1,2,3,4,5,6,7],
  pad:{left:0, top:27.7, right:1.7, bottom:0}, yW:68.7, xH:58.3,
  vlines:[{x:116, c:'#1f77b4', w:2},{x:218, c:'#008000', w:2},{x:334, c:'#1f77b4', w:2}],
  annots:[{t:'Chain A', x:50, y:7.2},{t:'ABD', x:44.6, y:6.18},{t:'Chain A', x:164, y:7.2},{t:'DD', x:168.5, y:6.18},
          {t:'Chain B', x:267, y:7.2},{t:'ABD', x:262, y:6.18},{t:'Chain B', x:381.6, y:7.2},{t:'DD', x:386.3, y:6.18}],
  letter:'b)', lx:2.7, ly:30, ytX:27, xtY:388});

makeChart({id:'cc', xs:acX, series:[[cWT,cWT_sd],[cN501Y,cN501Y_sd],[cK417N,cK417N_sd],[cE484Q,cE484Q_sd],[cT478K,cT478K_sd]],
  xmin:324.3, xmax:537.9, ymin:0.211, ymax:5.764, xticks:acTicks, yticks:[1,2,3,4,5],
  pad:{left:0, top:21, right:7.3, bottom:0}, yW:77.7, xH:64.3,
  vlines:dashed, letter:'c)', lx:14.5, ly:31, ytX:36, xtY:382});

makeChart({id:'cd', xs:dX, series:[[dWT,dWT_sd],[dN501Y,dN501Y_sd],[dK417N,dK417N_sd],[dE484Q,dE484Q_sd],[dT478K,dT478K_sd]],
  xmin:-8.85, xmax:238.6, ymin:0.243, ymax:7.986, xticks:dTicks, xlabels:dTickLabels, yticks:[1,2,3,4,5,6,7],
  pad:{left:0, top:21.7, right:1.7, bottom:0}, yW:68.7, xH:64.3,
  vlines:[{x:124, c:'#1f77b4', w:2}],
  annots:[{t:'Chain A: ABD', x:61.3, y:7.2},{t:'Chain B: DD', x:181.9, y:7.2}],
  letter:'d)', lx:13.6, ly:26, ytX:27, xtY:382});

// ---------- legend (HTML) ----------
const legendPos = [[267,824,318],[267,853,318],[409,824,460],[409,853,460],[679,824,730]];
const lg = document.getElementById('legend');
NAMES.forEach((n, i) => {
  const [sx, sy, tx] = legendPos[i];
  const sw = document.createElement('div'); sw.className = 'sw';
  sw.style.left = (sx-262) + 'px'; sw.style.top = (sy-808-1-1) + 'px'; sw.style.background = LINE_COLORS[i];
  lg.appendChild(sw);
  const t = document.createElement('div'); t.className = 'lt'; t.textContent = n;
  t.style.left = (tx-262) + 'px'; t.style.top = (sy-808-10-1) + 'px';
  lg.appendChild(t);
});
</script>
</body></html>
